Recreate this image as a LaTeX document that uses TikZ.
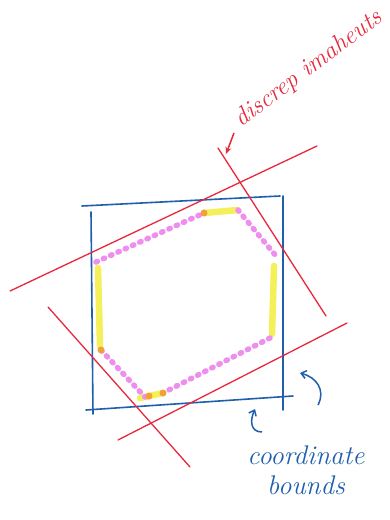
\documentclass[tikz,border=0pt]{standalone}
\usepackage{tikz}
\usepackage{xcolor}
\usetikzlibrary{arrows.meta,positioning,calc}
\definecolor{penred}{HTML}{E8283C}
\definecolor{penblue}{HTML}{1F5FAE}
\definecolor{hlpink}{HTML}{EE8EEE}
\definecolor{hlyellow}{HTML}{F4F05A}
\definecolor{hlorange}{HTML}{F2A13A}
\tikzset{
  boundline/.style={draw=penblue,line width=1.6pt,line cap=round},
  discline/.style={draw=penred,line width=1.3pt,line cap=round},
  dotedge/.style={draw=hlpink,line width=5.5pt,line cap=round,
                  dash pattern=on 1.5pt off 6.5pt},
  yeledge/.style={draw=hlyellow,line width=6.5pt,line cap=round},
  cornerdot/.style={circle,fill=hlorange,inner sep=0pt,minimum size=7pt},
  bluearr/.style={-{Straight Barb[length=5pt,width=8pt]},line width=1.5pt,
                  draw=penblue},
  redarr/.style={-{Stealth[length=7pt,width=6pt]},line width=1.5pt,
                 draw=penred},
  bluenote/.style={text=penblue,font=\fontsize{27}{29}\selectfont\itshape,
                   inner sep=0pt},
  rednote/.style={text=penred,font=\fontsize{25}{27}\selectfont\itshape,
                  inner sep=0pt}
}

\begin{document}
\begin{tikzpicture}[x=1pt,y=-1pt]
    \path[use as bounding box,fill=white] (0,0) rectangle (390,520);

    % hexagon corners
    \coordinate (hI) at (96,262);
    \coordinate (hB) at (204,213);
    \coordinate (hC) at (238,210);
    \coordinate (hD) at (276,256);
    \coordinate (hE) at (270,338);
    \coordinate (hF) at (163,393);
    \coordinate (hG) at (145,397);
    \coordinate (hH) at (101,350);

    \draw[yeledge] (hB) -- (hC);
    \draw[yeledge] (274,266) -- (272,334);
    \draw[yeledge] (140,398) -- (hF);
    \draw[yeledge] (98,268) -- (100,346);

    \draw[dotedge] (hI) -- (hB);
    \draw[dotedge] (hC) -- (hD);
    \draw[dotedge] (hE) -- (hF);
    \draw[dotedge] (hH) -- (hG);

    \node[cornerdot] (dB) at (hB) {};
    \node[cornerdot] (dH) at (hH) {};
    \node[cornerdot] (dG) at (149,396) {};
    \node[cornerdot] (dF) at (hF) {};

    % coordinate bounds
    \draw[boundline] (82,206) -- (280,196);
    \draw[boundline] (283,196) -- (283,410);
    \draw[boundline] (86,410) -- (293,396);
    \draw[boundline] (91,212) -- (93,414);

    % discrepancy constraints
    \draw[discline] (10,291) -- (317,146);
    \draw[discline] (218,148) -- (326,316);
    \draw[discline] (118,440) -- (347,323);
    \draw[discline] (48,307) -- (190,467);

    \node[rednote,rotate=37] (disc) at (309,69) {discrep imaheuts};
    \coordinate (discend) at (226,154);
    \draw[redarr] (234,133) -- (discend);

    \node[bluenote] (coord) at (306,455) {coordinate};
    \node[bluenote,below=11pt of coord] (bnds) {bounds};
    \draw[bluearr] (318,405) .. controls (326,390) and (316,377) .. (300,373);
    \draw[bluearr] (262,432) .. controls (250,432) and (250,420) .. (255,409);
  \end{tikzpicture}
\end{document}
